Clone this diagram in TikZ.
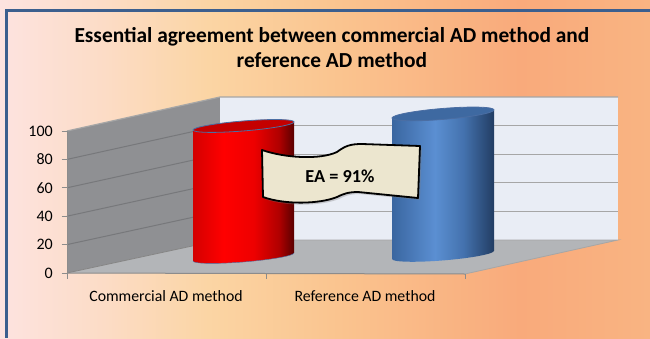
\documentclass[tikz,border=0pt]{standalone}
\usepackage{fontspec}
\setmainfont{Carlito}
\usetikzlibrary{shadows}
\definecolor{bgA}{HTML}{FDE3E0}
\definecolor{bgB}{HTML}{FCDCC6}
\definecolor{bgC}{HTML}{FBD5A4}
\definecolor{bgD}{HTML}{FAC48F}
\definecolor{bgE}{HTML}{F9AA7B}
\definecolor{bgF}{HTML}{F9B482}
\definecolor{frameblue}{HTML}{3C5F8E}
\definecolor{wallgray}{HTML}{8F9093}
\definecolor{wallline}{HTML}{77787B}
\definecolor{backwall}{HTML}{E9EDF5}
\definecolor{gridgray}{HTML}{A6A6A6}
\definecolor{floorgray}{HTML}{B3B5B8}
\definecolor{axisgray}{HTML}{8C8C8C}
\definecolor{rA}{HTML}{D40000}
\definecolor{rB}{HTML}{FF0000}
\definecolor{rC}{HTML}{EE0000}
\definecolor{rD}{HTML}{B00000}
\definecolor{rE}{HTML}{5A0000}
\definecolor{redtop}{HTML}{C40000}
\definecolor{bA}{HTML}{3A66A0}
\definecolor{bB}{HTML}{5B8FD2}
\definecolor{bC}{HTML}{4472AE}
\definecolor{bD}{HTML}{223D63}
\definecolor{bluetop}{HTML}{3E69A1}
\definecolor{toprim}{HTML}{4B6EA3}
\definecolor{bannerfill}{HTML}{ECE6CF}
\pgfdeclarehorizontalshading{bgshade}{100bp}{color(0bp)=(bgA); color(25bp)=(bgA); color(33bp)=(bgB); color(41bp)=(bgC); color(51bp)=(bgD); color(65bp)=(bgE); color(75bp)=(bgF); color(100bp)=(bgF)}
\pgfdeclarehorizontalshading{redcyl}{100bp}{color(0bp)=(rA); color(25bp)=(rA); color(40bp)=(rB); color(55bp)=(rC); color(67.5bp)=(rD); color(75bp)=(rE); color(100bp)=(rE)}
\pgfdeclarehorizontalshading{bluecyl}{100bp}{color(0bp)=(bA); color(25bp)=(bA); color(46bp)=(bB); color(60bp)=(bC); color(75bp)=(bD); color(100bp)=(bD)}
\tikzset{
  frameline/.style={draw=frameblue, line width=3.5pt},
  gridline/.style={draw=gridgray, line width=1.2pt},
  wallgrid/.style={draw=wallline, line width=1pt},
  axisline/.style={draw=axisgray, line width=1pt},
  cyltop/.style={draw=toprim, line width=0.8pt},
  ylab/.style={anchor=east, font=\fontsize{16}{18}\selectfont, text=black, inner sep=0pt},
  catlab/.style={font=\fontsize{15.8}{18}\selectfont, text=black, inner sep=0pt},
  titlelab/.style={anchor=base, font=\fontsize{21.4}{24}\selectfont\bfseries, text=black, inner sep=0pt},
  bannerbox/.style={fill=bannerfill, draw=black, line width=1.8pt, line join=round,
     drop shadow={shadow xshift=2pt, shadow yshift=-2pt, opacity=0.35}}
}
\begin{document}
\begin{tikzpicture}[x=1pt,y=1pt]
\useasboundingbox (0,0) rectangle (650,338);
\shade[shading=bgshade] (0,0) rectangle (650,338);
% frame
\draw[frameline] (650,327.5) -- (6.5,327.5) -- (6.5,0);
% title
\node[titlelab] (t1) at (332,295) {Essential agreement between commercial AD method and};
\node[titlelab] (t2) at (332,270) {reference AD method};
% walls and floor
\fill[wallgray] (67,207) -- (220,241) -- (220,98) -- (67,65) -- cycle;
\fill[backwall] (220,98) rectangle (618,241);
\fill[floorgray] (67,65) -- (220,98) -- (618,98) -- (465,64) -- cycle;
\foreach \i in {1,...,4}{
  \draw[wallgrid] (67,{65+28.4*\i}) -- (220,{98+28.6*\i});
  \draw[gridline] (220,{98+28.6*\i}) -- (618,{98+28.6*\i});
}
\draw[gridline] (67,207) -- (220,241) -- (618,241);
\draw[draw=gridgray, line width=0.8pt] (220,98) -- (618,98) -- (465,64);
\draw[draw=gridgray!80!black, line width=0.8pt] (67,65) -- (220,98);
% axes
\draw[axisline] (67,65) -- (67,207);
\draw[axisline] (67,65) -- (465,64);
\foreach \i in {0,...,5}{
  \draw[axisline] (61.5,{65+28.4*\i}) -- (67,{65+28.4*\i});
}
\draw[axisline] (67,65) -- (67,59.5);
\draw[axisline] (266,64.5) -- (266,59.5);
\draw[axisline] (465,64) -- (465,59);
% y labels
\node[ylab] (l0) at (53,65) {0};
\node[ylab] (l20) at (53,93.4) {20};
\node[ylab] (l40) at (53,121.8) {40};
\node[ylab] (l60) at (53,150.2) {60};
\node[ylab] (l80) at (53,178.6) {80};
\node[ylab] (l100) at (53,207) {100};
% category labels
\node[catlab] (c1) at (166,42) {Commercial AD method};
\node[catlab] (c2) at (365,42) {Reference AD method};
% red cylinder
\begin{scope}[shift={(193,208)}, yslant=0.08]
  \shade[shading=redcyl] (0,0) -- (0,-131) arc[start angle=180, end angle=360, x radius=50.5, y radius=5] -- (101,0) -- cycle;
  \draw[toprim, line width=0.4pt] (0,-131) arc[start angle=180, end angle=360, x radius=50.5, y radius=5];
  \draw[cyltop, fill=redtop] (50.5,0) ellipse [x radius=50.5, y radius=5];
\end{scope}
% blue cylinder
\begin{scope}[shift={(392,220)}, yslant=0.08]
  \shade[shading=bluecyl] (0,0) -- (0,-141) arc[start angle=180, end angle=360, x radius=51, y radius=5.5] -- (102,0) -- cycle;
  \draw[cyltop, fill=bluetop] (51,0) ellipse [x radius=51, y radius=5.5];
\end{scope}
% banner
\path[bannerbox] (262,188) .. controls (285,180) and (320,178) .. (337,186)
   .. controls (345,192) and (350,194) .. (362,194) -- (420,192)
   -- (418,140) -- (358,146) .. controls (348,146) and (343,144) .. (337,141)
   .. controls (320,134) and (285,133) .. (263,141) -- cycle;
\node[font=\fontsize{18.3}{20}\selectfont\bfseries, inner sep=0pt] (ea) at (340,162) {EA = 91\%};
\end{tikzpicture}
\end{document}
